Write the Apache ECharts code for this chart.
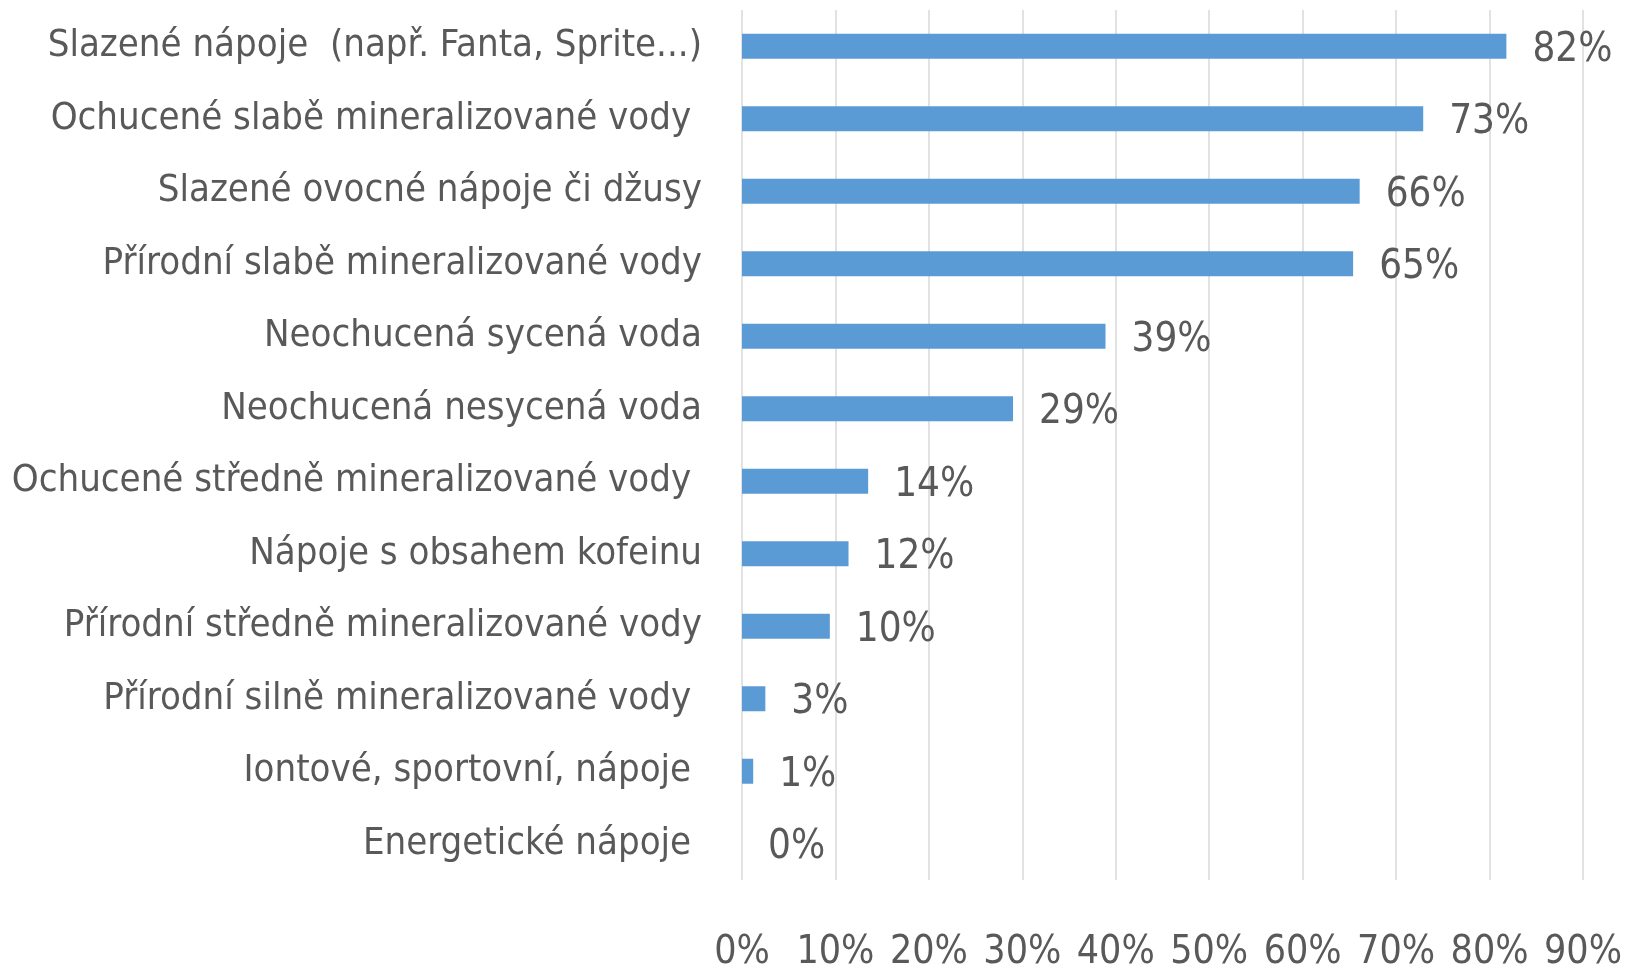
<!DOCTYPE html>
<html>
<head>
<meta charset="utf-8">
<script src="https://cdn.jsdelivr.net/npm/echarts@6/dist/echarts.min.js"></script>
<style>
  html, body { margin: 0; padding: 0; background: #fff; }
  #chart { width: 1628px; height: 969px; }
</style>
</head>
<body>
<div id="chart"></div>
<script>
// kategorie odshora dolů (jak jsou v obrázku)
const categories = [
  'Slazené nápoje  (např. Fanta, Sprite...)',
  'Ochucené slabě mineralizované vody ',
  'Slazené ovocné nápoje či džusy',
  'Přírodní slabě mineralizované vody',
  'Neochucená sycená voda',
  'Neochucená nesycená voda',
  'Ochucené středně mineralizované vody ',
  'Nápoje s obsahem kofeinu',
  'Přírodní středně mineralizované vody',
  'Přírodní silně mineralizované vody ',
  'Iontové, sportovní, nápoje ',
  'Energetické nápoje '
];
// délky sloupců (%)
const values = [81.8, 72.9, 66.1, 65.4, 38.9, 29, 13.5, 11.4, 9.4, 2.5, 1.2, 0];
// popisky hodnot, jak jsou v obrázku
const valueLabels = ['82%', '73%', '66%', '65%', '39%', '29%', '14%', '12%', '10%', '3%', '1%', '0%'];

const font = '"DejaVu Sans Condensed", "Liberation Sans", sans-serif';
const textColor = '#595959';

const chart = echarts.init(document.getElementById('chart'));

chart.setOption({
  animation: false,
  grid: { left: 742, right: 45, top: 10, bottom: 89, outerBoundsMode: 'none', containLabel: false },
  xAxis: {
    type: 'value',
    min: 0,
    max: 90,
    interval: 10,
    axisLine: { show: false },
    axisTick: { show: false },
    axisLabel: {
      formatter: '{value}%',
      color: textColor,
      fontFamily: font,
      fontSize: 39,
      margin: 53,
      showMinLabel: true,
      showMaxLabel: true,
      hideOverlap: false
    },
    splitLine: { lineStyle: { color: '#D9D9D9', width: 1.5 } }
  },
  yAxis: {
    type: 'category',
    inverse: true,
    data: categories,
    axisLine: { show: false },
    axisTick: { show: false },
    axisLabel: {
      color: textColor,
      fontFamily: font,
      fontSize: 38,
      margin: 40,
      interval: 0,
      padding: [9, 0, 0, 0]
    }
  },
  series: [{
    type: 'bar',
    data: values,
    barWidth: 25,
    itemStyle: { color: '#5B9BD5' },
    label: {
      show: true,
      position: 'right',
      distance: 26,
      offset: [0, 4],
      color: textColor,
      fontFamily: font,
      fontSize: 40,
      formatter: p => valueLabels[p.dataIndex]
    }
  }]
});
</script>
</body>
</html>
